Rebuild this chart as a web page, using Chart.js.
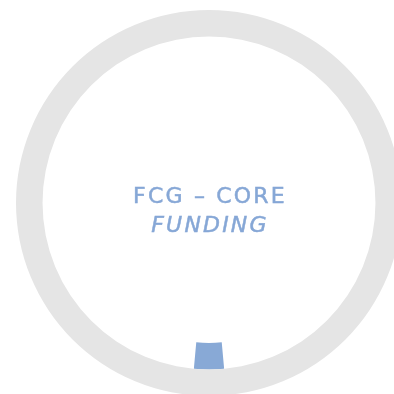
<!DOCTYPE html>
<html>
<head>
<meta charset="utf-8">
<script src="https://cdn.jsdelivr.net/npm/chart.js@4"></script>
<style>
  html, body { margin: 0; padding: 0; background: #fff; overflow: hidden; width: 394px; height: 394px; }
  #wrap { position: absolute; left: 16px; top: 10px; width: 386px; height: 386px; }
</style>
</head>
<body>
<div id="wrap"><canvas id="fundChart" width="386" height="386"></canvas></div>
<script>
// outer ring: full track
const trackValues = [100];
// inner ring: share of core funding, centred at the bottom
const shareLabels = ['', 'Core funding', ''];
const shareValues = [48.55, 2.9, 48.55];
const titleLines = ['FCG – CORE', 'FUNDING'];

const centerText = {
    id: 'centerText',
    afterDraw(chart) {
        const ctx = chart.ctx;
        const cx = 193, cy = 193;
        ctx.save();
        ctx.fillStyle = '#86a7d6';
        ctx.strokeStyle = '#86a7d6';
        ctx.lineWidth = 0.5;
        ctx.textAlign = 'center';
        ctx.textBaseline = 'alphabetic';
        ctx.letterSpacing = '2.2px';
        ctx.font = '22px "DejaVu Sans"';
        ctx.fillText(titleLines[0], cx + 1, cy - 0.5);
        ctx.strokeText(titleLines[0], cx + 1, cy - 0.5);
        ctx.font = 'italic 22px "DejaVu Sans"';
        ctx.fillText(titleLines[1], cx + 1, cy + 28.5);
        ctx.strokeText(titleLines[1], cx + 1, cy + 28.5);
        ctx.restore();
    }
};

const ctx = document.getElementById('fundChart').getContext('2d');
const fundChart = new Chart(ctx, {
    type: 'doughnut',
    data: {
        labels: shareLabels,
        datasets: [{
            data: trackValues,
            backgroundColor: ['#e5e5e5'],
            borderWidth: 0
        }, {
            data: shareValues,
            backgroundColor: ['rgba(0,0,0,0)', '#88a9d6', 'rgba(0,0,0,0)'],
            borderWidth: 0
        }]
    },
    options: {
        responsive: false,
        animation: false,
        cutout: '72.5%',
        layout: { padding: 0 },
        plugins: {
            legend: { display: false },
            tooltip: { enabled: false }
        }
    },
    plugins: [centerText]
});
</script>
</body>
</html>
